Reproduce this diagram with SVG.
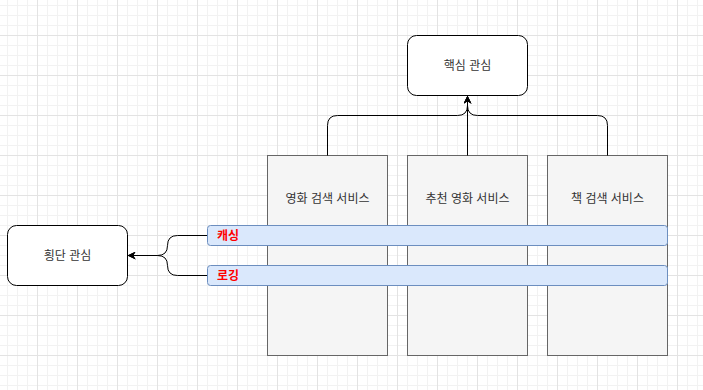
<svg xmlns="http://www.w3.org/2000/svg" width="703" height="390" viewBox="0 0 703 390">
  <defs>
    <pattern id="minor" x="7" y="5" width="10" height="10" patternUnits="userSpaceOnUse">
      <path d="M0 0.5H10M0.5 0V10" fill="none" stroke="#f2f2f2" stroke-width="1"/>
    </pattern>
    <pattern id="major" x="37" y="35" width="40" height="40" patternUnits="userSpaceOnUse">
      <path d="M0 0.5H40M0.5 0V40" fill="none" stroke="#e3e3e3" stroke-width="1"/>
    </pattern>
    <marker id="arrow" viewBox="0 0 10 10" refX="9" refY="5" markerWidth="8" markerHeight="8" markerUnits="userSpaceOnUse" orient="auto">
      <path d="M0 0L10 5L0 10L3 5Z" fill="#000"/>
    </marker>
    <style>
      .t { font-family: "Liberation Sans", "Noto Sans CJK KR", sans-serif; font-size: 12px; fill: #333; text-anchor: middle; dominant-baseline: central; }
      .round { fill: #fff; stroke: #000; stroke-width: 1; }
      .svc { fill: #f5f5f5; stroke: #666; stroke-width: 1; }
      .bar { fill: #dae8fc; stroke: #6c8ebf; stroke-width: 1; }
      .bt { font-family: "Liberation Sans", "Noto Sans CJK KR", sans-serif; font-size: 12px; font-weight: bold; fill: #ff0000; dominant-baseline: central; }
      .edge { fill: none; stroke: #000; stroke-width: 1; marker-end: url(#arrow); }
    </style>
  </defs>
  <rect width="703" height="390" fill="#fff"/>
  <rect width="703" height="390" fill="url(#minor)"/>
  <rect width="703" height="390" fill="url(#major)"/>

  <g id="core">
    <rect class="round" x="407.5" y="35.5" width="120" height="60" rx="9"/>
    <text class="t" x="467.5" y="65.5">핵심 관심</text>
  </g>
  <g id="crosscut">
    <rect class="round" x="7.5" y="225.5" width="120" height="60" rx="9"/>
    <text class="t" x="67.5" y="255.5">횡단 관심</text>
  </g>
  <g id="svc1">
    <rect class="svc" x="267.5" y="155.5" width="120" height="200"/>
    <text class="t" x="327.5" y="198.5">영화 검색 서비스</text>
  </g>
  <g id="svc2">
    <rect class="svc" x="407.5" y="155.5" width="120" height="200"/>
    <text class="t" x="467.5" y="198.5">추천 영화 서비스</text>
  </g>
  <g id="svc3">
    <rect class="svc" x="547.5" y="155.5" width="120" height="200"/>
    <text class="t" x="607.5" y="198.5">책 검색 서비스</text>
  </g>

  <g id="connectors">
    <path class="edge" d="M327.5 155.5V125.5Q327.5 115.5 337.5 115.5H457.5Q467.5 115.5 467.5 105.5V96.5"/>
    <path class="edge" d="M467.5 155.5V96.5"/>
    <path class="edge" d="M607.5 155.5V125.5Q607.5 115.5 597.5 115.5H477.5Q467.5 115.5 467.5 105.5V96.5"/>
    <path class="edge" d="M207.5 235.5H177.5Q167.5 235.5 167.5 245.5Q167.5 255.5 157.5 255.5H128.5"/>
    <path class="edge" d="M207.5 275.5H177.5Q167.5 275.5 167.5 265.5Q167.5 255.5 157.5 255.5H128.5"/>
  </g>

  <g id="caching">
    <rect class="bar" x="207.5" y="225.5" width="460" height="20" rx="3"/>
    <text class="bt" x="217" y="235.5">캐싱</text>
  </g>
  <g id="logging">
    <rect class="bar" x="207.5" y="265.5" width="460" height="20" rx="3"/>
    <text class="bt" x="217" y="275.5">로깅</text>
  </g>
</svg>
